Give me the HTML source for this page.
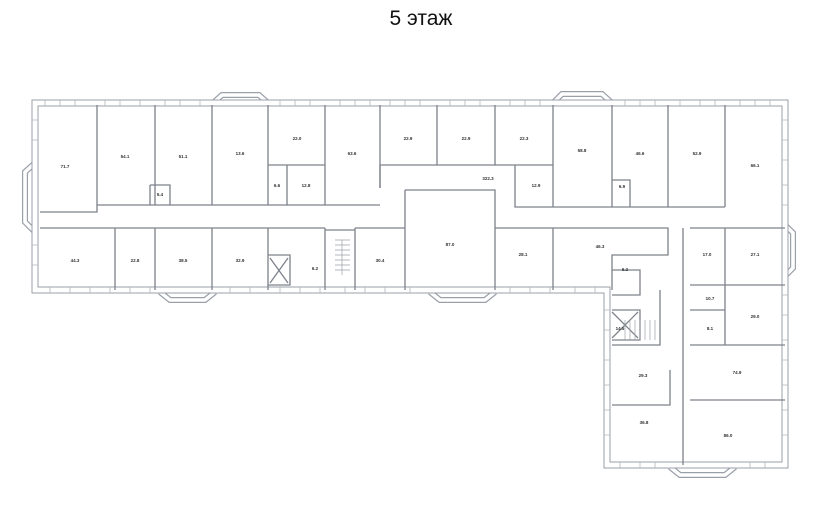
<!DOCTYPE html>
<html><head><meta charset="utf-8"><style>
html,body{margin:0;padding:0;background:#fff;width:825px;height:513px;overflow:hidden}
svg{display:block}
text{font-family:"Liberation Sans",sans-serif}
.t{font-size:4.5px;fill:#333;text-anchor:middle;font-weight:bold}
</style></head><body>
<svg width="825" height="513" viewBox="0 0 825 513">
<text x="421" y="25" font-size="21" text-anchor="middle" fill="#111" style="font-family:'Liberation Sans',sans-serif">5 этаж</text>
<g fill="none" stroke-linejoin="miter">
<g stroke="#9aa0a8" stroke-width="6">
<path d="M35,163 L25,172 L25,222 L35,232"/>
<path d="M213,103 L222,95 L259,95 L268,103"/>
<path d="M553,103 L562,94 L602,94 L612,103"/>
<path d="M160,292 L170,300 L205,300 L215,292"/>
<path d="M430,292 L440,300 L485,300 L495,292"/>
<path d="M670,467 L680,475 L725,475 L735,467"/>
<path d="M785,225 L793,233 L793,268 L785,276"/>
</g>
<g stroke="#fff" stroke-width="3.6">
<path d="M35,163 L25,172 L25,222 L35,232"/>
<path d="M213,103 L222,95 L259,95 L268,103"/>
<path d="M553,103 L562,94 L602,94 L612,103"/>
<path d="M160,292 L170,300 L205,300 L215,292"/>
<path d="M430,292 L440,300 L485,300 L495,292"/>
<path d="M670,467 L680,475 L725,475 L735,467"/>
<path d="M785,225 L793,233 L793,268 L785,276"/>
</g>
<path d="M35,103 L785,103 L785,465 L607,465 L607,290 L35,290 Z" stroke="#9aa0a8" stroke-width="7"/>
<path d="M35,103 L785,103 L785,465 L607,465 L607,290 L35,290 Z" stroke="#fff" stroke-width="5"/>
<g stroke="#b0b5bb" stroke-width="0.8">
<path d="M45,100v6M60,100v6M75,100v6M105,100v6M120,100v6M140,100v6M165,100v6M180,100v6M200,100v6M280,100v6M295,100v6M310,100v6M340,100v6M355,100v6M370,100v6M390,100v6M405,100v6M420,100v6M450,100v6M465,100v6M480,100v6M510,100v6M525,100v6M540,100v6M625,100v6M640,100v6M655,100v6M680,100v6M700,100v6M715,100v6M740,100v6M755,100v6M770,100v6"/>
<path d="M50,287v6M70,287v6M90,287v6M110,287v6M130,287v6M150,287v6M230,287v6M250,287v6M280,287v6M300,287v6M320,287v6M345,287v6M365,287v6M385,287v6M410,287v6M510,287v6M530,287v6M550,287v6M575,287v6M595,287v6"/>
<path d="M782,120h6M782,140h6M782,160h6M782,185h6M782,205h6M782,295h6M782,315h6M782,340h6M782,360h6M782,385h6M782,410h6M782,435h6"/>
<path d="M604,310h6M604,330h6M604,360h6M604,385h6M604,410h6M604,435h6M620,462v6M640,462v6M655,462v6M750,462v6M765,462v6M32,120h6M32,140h6M32,245h6M32,265h6"/>
</g>
</g>
<g stroke="#7d828a" stroke-width="1.3" fill="none">
<path d="M97,105V205M155,105V205M212,105V205M268,105V205M325,105V205M380,105V188M437,105V165M495,105V165M553,105V207M612,105V207M668,105V207M725,105V207"/>
<path d="M97,205H380M97,205V212H40M380,165H553M380,165V188"/>
<path d="M515,165V207H725"/>
<path d="M268,165H325M287,165V205M612,180H630V207"/>
<path d="M150,185H170V205M150,185V205"/>
<path d="M40,228H325M355,228H405M495,228H668V255H612V290"/>
<path d="M405,190H495V290M405,190V290"/>
<path d="M115,228V290M155,228V290M212,228V290M268,228V290M355,228V290M553,228V290"/>
<path d="M268,255H290V285H268M290,255V285M325,228V290M325,230H355"/>
<path d="M270,258L288,283M288,258L270,283"/>
<path d="M612,270H640V295H612M612,310H640V340H612M612,312L638,338M638,312L612,338"/>
<path d="M612,345H660V290M612,405H670V370"/>
<path d="M683,228V465M690,228H785M690,285H785M690,345H785M690,400H785M725,228V345M690,310H725"/>
</g>
<g stroke="#9aa0a8" stroke-width="0.7">
<path d="M335,240H350M335,245H350M335,250H350M335,255H350M335,260H350M335,265H350M335,270H350M342,240V275"/>
<path d="M625,320V340M630,320V340M635,320V340M640,320V340M645,320V340M650,320V340M655,320V340"/>
</g>
<g class="t">
<text x="65" y="168">71.7</text><text x="125" y="158">54.1</text><text x="183" y="158">51.1</text><text x="240" y="155">13.6</text>
<text x="297" y="140">22.0</text><text x="352" y="155">63.6</text><text x="408" y="140">22.9</text><text x="466" y="140">22.9</text><text x="524" y="140">22.3</text>
<text x="582" y="152">58.8</text><text x="640" y="155">46.6</text><text x="697" y="155">52.9</text><text x="755" y="167">66.1</text>
<text x="160" y="196">5.4</text><text x="277" y="187">6.6</text><text x="306" y="187">12.8</text><text x="536" y="187">12.9</text><text x="622" y="188">6.9</text>
<text x="488" y="180">322.3</text>
<text x="75" y="262">44.3</text><text x="135" y="262">22.8</text><text x="183" y="262">38.5</text><text x="240" y="262">32.9</text><text x="315" y="270">6.2</text>
<text x="380" y="262">30.4</text><text x="450" y="246">87.0</text><text x="523" y="256">28.1</text><text x="600" y="248">46.3</text>
<text x="625" y="271">6.2</text><text x="707" y="256">17.0</text><text x="755" y="256">27.1</text><text x="710" y="300">10.7</text><text x="755" y="318">29.0</text>
<text x="710" y="330">8.1</text><text x="620" y="330">14.5</text><text x="643" y="377">29.3</text><text x="737" y="374">74.9</text><text x="644" y="424">36.8</text><text x="728" y="437">86.0</text>
</g>
</svg>
</body></html>
